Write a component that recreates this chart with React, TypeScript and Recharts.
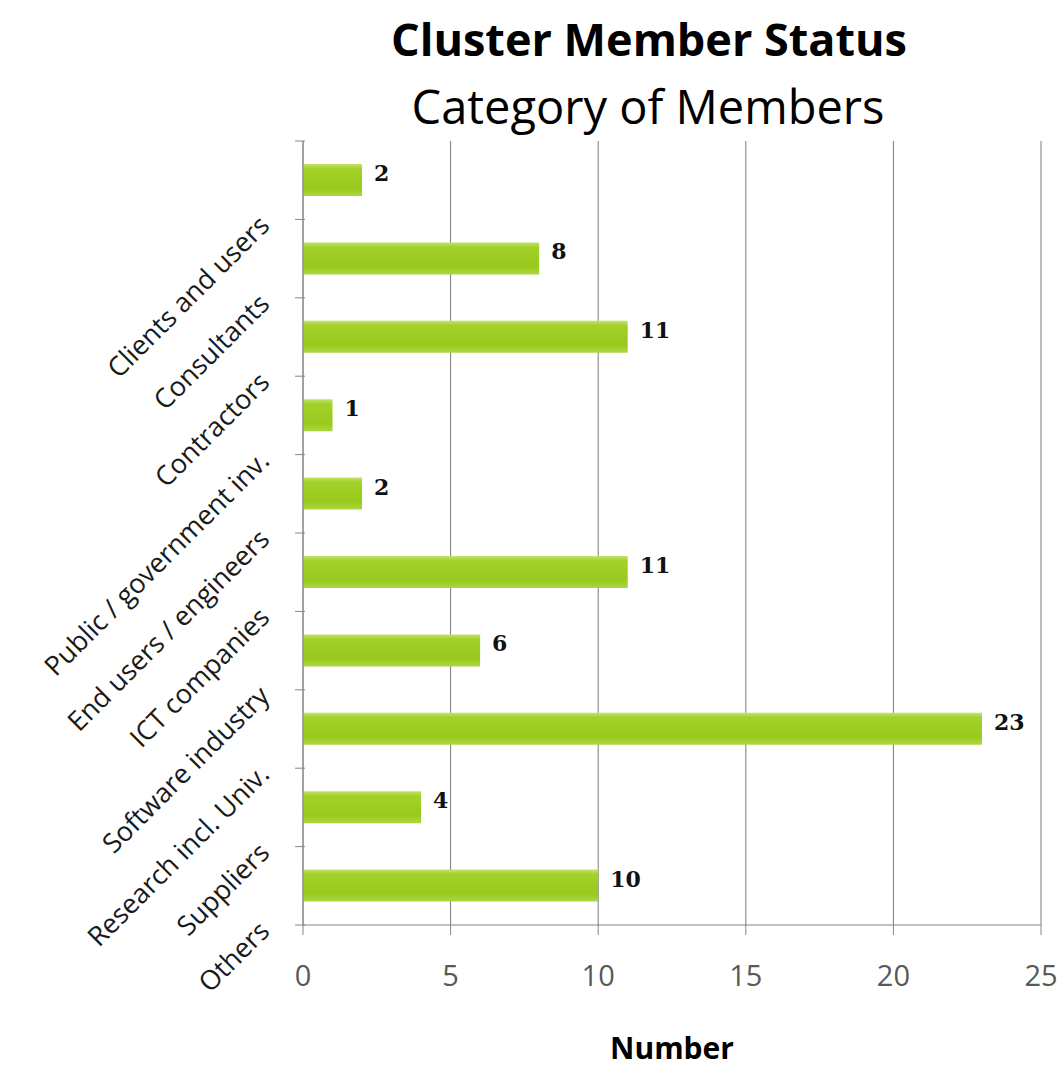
import { BarChart, Bar, XAxis, YAxis, CartesianGrid, LabelList } from 'recharts';

const categories = [
  'Clients and users',
  'Consultants',
  'Contractors',
  'Public / government inv.',
  'End users / engineers',
  'ICT companies',
  'Software industry',
  'Research incl. Univ.',
  'Suppliers',
  'Others',
];
const members = [2, 8, 11, 1, 2, 11, 6, 23, 4, 10];
const xTicks = [0, 5, 10, 15, 20, 25];

const data = categories.map((name, i) => ({ name, value: members[i] }));

const W = 1064;
const H = 1072;
const PLOT_TOP = 141;
const PLOT_BOTTOM = 925;
const BAND = (PLOT_BOTTOM - PLOT_TOP) / categories.length;
const FONT = '"Open Sans", "Noto Sans", sans-serif';

function CategoryTick(props: any) {
  const { x, y, payload, index } = props;
  const axisX = x + 10;
  const tx = axisX - 34;
  const ty = y + 47;
  return (
    <g>
      {index === 0 && (
        <line x1={axisX - 10} x2={axisX} y1={y - BAND / 2} y2={y - BAND / 2} stroke="#868686" />
      )}
      <line x1={axisX - 10} x2={axisX} y1={y + BAND / 2} y2={y + BAND / 2} stroke="#868686" />
      <text
        x={tx}
        y={ty}
        transform={`rotate(-45, ${tx}, ${ty})`}
        textAnchor="end"
        fontFamily={FONT}
        fontSize={27}
        fill="#1a1a1a"
      >
        {payload.value}
      </text>
    </g>
  );
}

function ValueLabel(props: any) {
  const { x, y, width, height, value } = props;
  return (
    <text
      x={x + width + 12}
      y={y + height / 2 - 7}
      dominantBaseline="central"
      fontFamily='"DejaVu Serif", serif'
      fontWeight="bold"
      fontSize={22}
      fill="#111"
    >
      {value}
    </text>
  );
}

export default function App() {
  return (
    <div style={{ position: 'absolute', left: 0, top: 0, width: W, height: H, background: '#fff', overflow: 'hidden' }}>
      <div
        style={{
          position: 'absolute',
          left: 0,
          width: 1298,
          top: 8,
          textAlign: 'center',
          fontFamily: FONT,
          fontWeight: 'bold',
          fontSize: 45,
          lineHeight: 'normal',
          color: '#000',
        }}
      >
        Cluster Member Status
      </div>
      <div
        style={{
          position: 'absolute',
          left: 0,
          width: 1296,
          top: 74,
          textAlign: 'center',
          fontFamily: FONT,
          fontSize: 47,
          lineHeight: 'normal',
          color: '#000',
        }}
      >
        Category of Members
      </div>
      <BarChart
        width={W}
        height={H}
        data={data}
        layout="vertical"
        margin={{ top: PLOT_TOP, right: 23, bottom: 0, left: 0 }}
        barCategoryGap={0}
        style={{ position: 'absolute', left: 0, top: 0 }}
      >
        <defs>
          <linearGradient id="barFill" x1="0" y1="0" x2="0" y2="1">
            <stop offset="0%" stopColor="#c4e36a" />
            <stop offset="15%" stopColor="#a3d12a" />
            <stop offset="75%" stopColor="#98c91c" />
            <stop offset="100%" stopColor="#acd642" />
          </linearGradient>
        </defs>
        <CartesianGrid horizontal={false} stroke="#7a7a7a" strokeWidth={1} />
        <XAxis
          type="number"
          domain={[0, 25]}
          ticks={xTicks}
          height={H - PLOT_BOTTOM}
          tickSize={10}
          tickMargin={30}
          axisLine={{ stroke: '#868686' }}
          tickLine={{ stroke: '#868686' }}
          tick={{ fill: '#595959', fontSize: 29, fontFamily: FONT }}
        />
        <YAxis
          type="category"
          dataKey="name"
          width={303}
          tickLine={false}
          axisLine={{ stroke: '#868686' }}
          tick={<CategoryTick />}
          interval={0}
        />
        <Bar dataKey="value" barSize={32} fill="url(#barFill)" isAnimationActive={false}>
          <LabelList dataKey="value" content={<ValueLabel />} />
        </Bar>
      </BarChart>
      <div
        style={{
          position: 'absolute',
          left: 0,
          width: 1344,
          top: 1033,
          height: 30,
          textAlign: 'center',
          fontFamily: FONT,
          fontWeight: 'bold',
          fontSize: 30,
          lineHeight: '30px',
          color: '#000',
        }}
      >
        Number
      </div>
    </div>
  );
}
